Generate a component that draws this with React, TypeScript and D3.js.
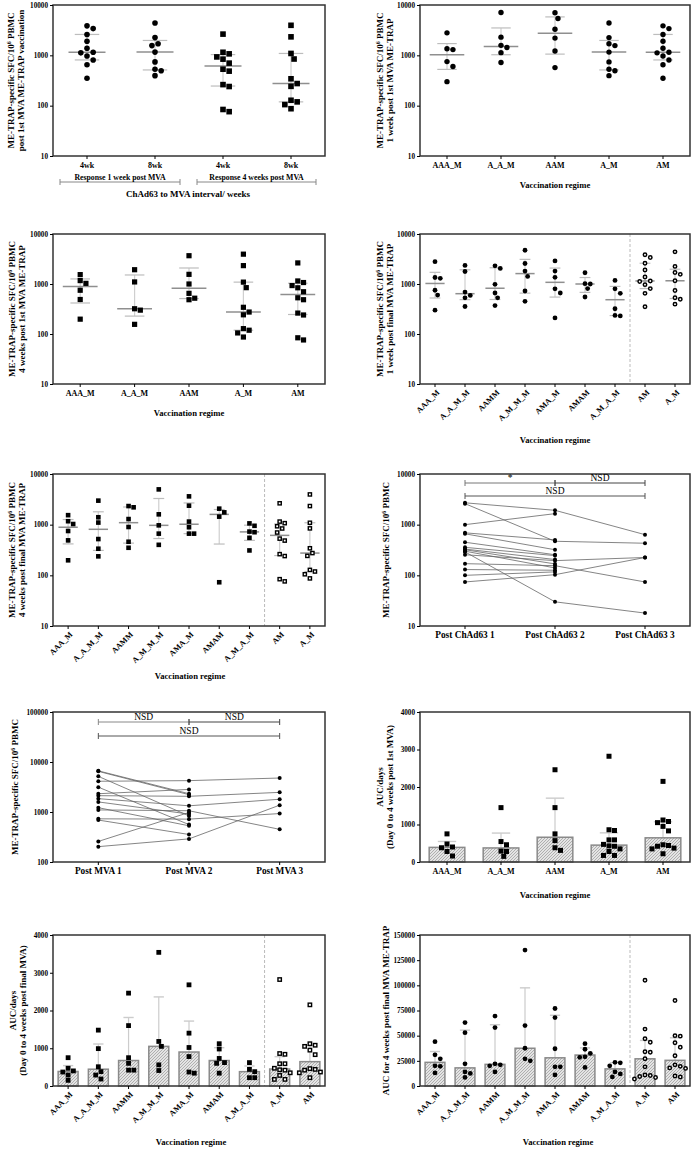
import React, { useEffect, useRef } from 'react';
import * as d3 from 'd3';

const FONT = '"Liberation Serif", "Times New Roman", serif';

// ---- categories ----
const intervalCats = ['4wk', '8wk', '4wk', '8wk'];
const regimes5 = ['AAA_M', 'A_A_M', 'AAM', 'A_M', 'AM'];
const regimes9 = ['AAA_M', 'A_A_M_M', 'AAMM', 'A_M_M_M', 'AMA_M', 'AMAM', 'A_M_A_M', 'AM', 'A_M'];
const regimes9b = ['AAA_M', 'A_A_M_M', 'AAMM', 'A_M_M_M', 'AMA_M', 'AMAM', 'A_M_A_M', 'A_M', 'AM'];
const chadCats = ['Post ChAd63 1', 'Post ChAd63 2', 'Post ChAd63 3'];
const mvaCats = ['Post MVA 1', 'Post MVA 2', 'Post MVA 3'];

// ---- SFC/10^6 PBMC, 1 week post 1st MVA ----
const wk1_AAA_M = [2800, 1350, 1300, 750, 600, 300];
const wk1_A_A_M = [7100, 2300, 1580, 1430, 1130, 720];
const wk1_AAM = [7000, 5400, 3300, 2200, 1220, 570];
const wk1_A_M = [4400, 2250, 1700, 1560, 1160, 740, 530, 495, 395];
const wk1_AM = [3850, 3400, 2600, 1900, 1380, 1150, 1120, 970, 810, 650, 350];

// ---- 4 weeks post 1st MVA ----
const wk4_AAA_M = [1540, 1170, 1030, 750, 490, 198];
const wk4_A_A_M = [1930, 1100, 320, 300, 156];
const wk4_AAM = [3680, 1560, 1000, 650, 520, 485];
const wk4_A_M = [3950, 2330, 1090, 845, 342, 275, 242, 128, 119, 105, 87];
const wk4_AM = [2640, 1150, 1070, 930, 840, 700, 530, 485, 262, 240, 84, 76];

// ---- 1 week post final MVA ----
const fin1_A_A_M_M = [2350, 1780, 690, 590, 530, 355];
const fin1_AAMM = [2310, 2050, 985, 660, 530, 370];
const fin1_A_M_M_M = [4730, 2570, 1810, 1420, 725, 450];
const fin1_AMA_M = [2900, 1810, 1360, 800, 660, 210];
const fin1_AMAM = [1680, 1015, 1000, 810, 550];
const fin1_A_M_A_M = [1180, 800, 650, 320, 235, 230];

// ---- 4 weeks post final MVA ----
const fin4_A_A_M_M = [2980, 1400, 1100, 520, 335, 237];
const fin4_AAMM = [2330, 2200, 1290, 900, 460, 350];
const fin4_A_M_M_M = [4970, 1600, 970, 665, 400];
const fin4_AMA_M = [3620, 2370, 1150, 890, 665, 665];
const fin4_AMAM = [2070, 1750, 1440, 73];
const fin4_A_M_A_M = [1060, 950, 730, 710, 550, 310];

// ---- repeated ChAd63 / MVA, per volunteer ----
const chadSeries = [
  [2700, 1920, 635],
  [2600, 470, 430],
  [1000, 1650],
  [690, 500],
  [660, 320],
  [450, 255],
  [357, 245],
  [330, 205],
  [320, 168],
  [300, 140],
  [290, 30, 18],
  [255, 195, 225],
  [170, 155, 74],
  [130, 126],
  [100, 117],
  [74, 103, 225],
];
const mvaSeries = [
  [6650, 2320],
  [6500, 2220],
  [5160, 835],
  [4120, 4240, 4780],
  [3140, 560],
  [2320, 2830],
  [2120, 2060, 2470],
  [1850, 1330, 1800],
  [1590, 910],
  [1220, 530],
  [1100, 1060, 450],
  [730, 720, 930],
  [690, 355],
  [258, 980],
  [203, 290, 1370],
];

// ---- AUC/days, day 0 to 4 weeks post 1st MVA ----
const auc1_AAA_M = [750, 480, 400, 380, 280, 160];
const auc1_A_A_M = [1450, 545, 460, 290, 280, 150];
const auc1_AAM = [2460, 1450, 750, 570, 380, 310];
const auc1_A_M = [2820, 860, 840, 590, 590, 470, 430, 420, 350, 280, 175, 175];
const auc1_AM = [2150, 1120, 1080, 1050, 950, 830, 460, 440, 420, 370, 350, 220];

// ---- AUC/days, day 0 to 4 weeks post final MVA ----
const aucF_AAA_M = [750, 470, 400, 370, 290, 150];
const aucF_A_A_M_M = [1480, 990, 510, 380, 290, 185];
const aucF_AAMM = [2460, 1600, 750, 600, 420, 420];
const aucF_A_M_M_M = [3540, 1180, 1050, 560, 410];
const aucF_AMA_M = [2680, 1400, 1020, 780, 370, 340];
const aucF_AMAM = [1120, 980, 730, 620, 600, 340];
const aucF_A_M_A_M = [620, 440, 380, 220, 220];

// ---- AUC for 4 weeks post final MVA ME-TRAP ----
const auc4_AAA_M = [44000, 31000, 27000, 20000, 19500, 13000];
const auc4_A_A_M_M = [63000, 53000, 22000, 14000, 12500, 8500];
const auc4_AAMM = [69500, 58000, 22000, 21000, 20000, 14000];
const auc4_A_M_M_M = [135000, 60000, 37500, 27000, 25000];
const auc4_AMA_M = [77000, 68000, 37000, 19000, 19000, 11000];
const auc4_AMAM = [42000, 36500, 32500, 29000, 28500, 18500];
const auc4_A_M_A_M = [23500, 23000, 20000, 14000, 12000, 9000];
const auc4_A_M = [105000, 56500, 47000, 43500, 34000, 33500, 27000, 19000, 11000, 10500, 9500, 8500, 7000];
const auc4_AM = [85000, 50000, 49500, 43000, 38500, 30000, 21000, 19500, 18000, 17500, 10000, 9000];

const logTicks = [10, 100, 1000, 10000];
const logTicks2 = [100, 1000, 10000, 100000];
const aucTicks = [0, 1000, 2000, 3000, 4000];
const auc4Ticks = [0, 25000, 50000, 75000, 100000, 125000, 150000];

type Shape = 'circle' | 'square' | 'ocircle' | 'osquare';
type Sel = d3.Selection<any, unknown, null, undefined>;

// GraphPad style percentile: position (n+1)p
function gpQuantile(vals: number[], p: number) {
  const s = [...vals].sort((a, b) => a - b);
  const n = s.length;
  const pos = (n + 1) * p;
  if (pos <= 1) return s[0];
  if (pos >= n) return s[n - 1];
  const lo = Math.floor(pos);
  return s[lo - 1] + (pos - lo) * (s[lo] - s[lo - 1]);
}

// spread overlapping points sideways
function dodge(ys: number[], size: number) {
  const order = ys.map((_, i) => i).sort((a, b) => ys[a] - ys[b]);
  const placed: { x: number; y: number }[] = [];
  const out = ys.map(() => 0);
  for (const i of order) {
    const y = ys[i];
    for (let k = 0; k < 40; k++) {
      const off = k === 0 ? 0 : (k % 2 ? 1 : -1) * Math.ceil(k / 2) * size * 0.5;
      if (placed.every(p => Math.hypot(p.x - off, p.y - y) >= size)) {
        out[i] = off;
        placed.push({ x: off, y });
        break;
      }
    }
  }
  return out;
}

function marker(g: Sel, shape: Shape, cx: number, cy: number, r: number) {
  if (shape === 'circle') {
    g.append('circle').attr('cx', cx).attr('cy', cy).attr('r', r).attr('fill', '#000');
  } else if (shape === 'square') {
    g.append('rect').attr('x', cx - r).attr('y', cy - r).attr('width', 2 * r).attr('height', 2 * r).attr('fill', '#000');
  } else if (shape === 'ocircle') {
    g.append('circle').attr('cx', cx).attr('cy', cy).attr('r', r - 0.7)
      .attr('fill', '#fff').attr('stroke', '#000').attr('stroke-width', 1.5);
  } else {
    g.append('rect').attr('x', cx - r + 0.7).attr('y', cy - r + 0.7).attr('width', 2 * r - 1.4).attr('height', 2 * r - 1.4)
      .attr('fill', '#fff').attr('stroke', '#000').attr('stroke-width', 1.4);
  }
}

function addText(g: Sel, text: string, x: number, y: number, opts: { rot?: number; size?: number; bold?: boolean; anchor?: string } = {}) {
  const size = opts.size ?? 9;
  const t = g.append('text')
    .attr('transform', `translate(${x},${y}) rotate(${opts.rot ?? 0})`)
    .attr('text-anchor', opts.anchor ?? 'middle')
    .attr('dy', '0.35em')
    .attr('font-family', FONT)
    .attr('font-size', size)
    .attr('font-weight', opts.bold === false ? 'normal' : 'bold')
    .attr('fill', '#000');
  const parts = text.split('^6');
  parts.forEach((p, i) => {
    t.append('tspan').text(p);
    if (i < parts.length - 1) t.append('tspan').attr('baseline-shift', 'super').attr('font-size', size * 0.65).text('6');
  });
}

function bracket(g: Sel, xa: number, xb: number, y: number, label: string, bold = false, color = '#777') {
  g.append('path')
    .attr('d', `M${xa},${y - 3}V${y + 3}M${xa},${y}H${xb}M${xb},${y - 3}V${y + 3}`)
    .attr('stroke', color).attr('stroke-width', 1).attr('fill', 'none');
  addText(g, label, (xa + xb) / 2, y - 5, { size: bold ? 7.8 : 9.5, bold });
}

interface Frame { x0: number; x1: number; y0: number; y1: number }

function frameAndAxes(g: Sel, f: Frame, y: any, ticks: number[], x: d3.ScaleBand<string>, cats: string[], rotate: boolean, labelSize = 8) {
  g.append('rect').attr('x', f.x0).attr('y', f.y0).attr('width', f.x1 - f.x0).attr('height', f.y1 - f.y0)
    .attr('fill', 'none').attr('stroke', '#333').attr('stroke-width', 1.5);
  const ay = g.append('g').attr('transform', `translate(${f.x0},0)`)
    .call(d3.axisLeft(y).tickValues(ticks).tickSize(3).tickPadding(2).tickFormat(d3.format('d')) as any);
  ay.select('.domain').remove();
  ay.selectAll('line').attr('stroke', '#000');
  ay.selectAll('text').attr('font-family', FONT).attr('font-weight', 'bold').attr('font-size', 7.2).attr('fill', '#000');
  cats.forEach((c, i) => {
    const cx = (x(String(i)) as number) + x.bandwidth() / 2;
    g.append('line').attr('x1', cx).attr('x2', cx).attr('y1', f.y1).attr('y2', f.y1 + 3).attr('stroke', '#000');
    if (rotate) {
      g.append('text')
        .attr('transform', `translate(${cx + 3},${f.y1 + 7}) rotate(-45)`)
        .attr('text-anchor', 'end').attr('dy', '0.35em')
        .attr('font-family', FONT).attr('font-weight', 'bold').attr('font-size', 8).text(c);
    } else {
      addText(g, c, cx, f.y1 + 9, { size: labelSize });
    }
  });
}

interface DotCfg extends Frame {
  cats: string[];
  groups: number[][];
  shapes: Shape[];
  y: any;
  ticks: number[];
  bars?: boolean;
  rotate?: boolean;
  sepAfter?: number;
  r: number;
}

function dotPanel(svg: Sel, c: DotCfg) {
  const g = svg.append('g');
  const x = d3.scaleBand<string>().domain(c.cats.map((_, i) => String(i))).range([c.x0, c.x1]);
  const bw = x.bandwidth();
  if (c.sepAfter !== undefined) {
    const sx = (x(String(c.sepAfter)) as number);
    g.append('line').attr('x1', sx).attr('x2', sx).attr('y1', c.y0).attr('y2', c.y1)
      .attr('stroke', '#aaa').attr('stroke-width', 0.8).attr('stroke-dasharray', '3,2');
  }
  c.groups.forEach((vals, i) => {
    const cx = (x(String(i)) as number) + bw / 2;
    const med = gpQuantile(vals, 0.5);
    const q1 = gpQuantile(vals, 0.25);
    const q3 = gpQuantile(vals, 0.75);
    if (c.bars) {
      const w = bw * 0.66;
      g.append('line').attr('x1', cx).attr('x2', cx).attr('y1', c.y(med)).attr('y2', c.y(q3))
        .attr('stroke', '#ccc').attr('stroke-width', 1.2);
      g.append('line').attr('x1', cx - bw * 0.17).attr('x2', cx + bw * 0.17).attr('y1', c.y(q3)).attr('y2', c.y(q3))
        .attr('stroke', '#ccc').attr('stroke-width', 1.4);
      g.append('rect').attr('x', cx - w / 2).attr('y', c.y(med)).attr('width', w).attr('height', c.y(0) - c.y(med))
        .attr('fill', 'url(#hatch)').attr('stroke', '#8a8a8a').attr('stroke-width', 1.5);
    } else {
      const mw = Math.min(bw * 0.64, 37);
      const cw = bw * 0.36;
      g.append('line').attr('x1', cx).attr('x2', cx).attr('y1', c.y(q1)).attr('y2', c.y(q3))
        .attr('stroke', '#cfcfcf').attr('stroke-width', 1.2);
      [q1, q3].forEach(q => g.append('line').attr('x1', cx - cw / 2).attr('x2', cx + cw / 2)
        .attr('y1', c.y(q)).attr('y2', c.y(q)).attr('stroke', '#bdbdbd').attr('stroke-width', 1.2));
      g.append('line').attr('x1', cx - mw / 2).attr('x2', cx + mw / 2).attr('y1', c.y(med)).attr('y2', c.y(med))
        .attr('stroke', '#8f8f8f').attr('stroke-width', 1.5);
    }
    const ys = vals.map(v => c.y(v));
    const offs = dodge(ys, c.r * 2.2);
    ys.forEach((yy, j) => marker(g, c.shapes[i], cx + offs[j], yy, c.r));
  });
  frameAndAxes(g, c, c.y, c.ticks, x, c.cats, !!c.rotate);
  return x;
}

function linePanel(svg: Sel, c: Frame & { cats: string[]; series: number[][]; y: any; ticks: number[] }) {
  const g = svg.append('g');
  const x = d3.scaleBand<string>().domain(c.cats.map((_, i) => String(i))).range([c.x0, c.x1]);
  const cx = (i: number) => (x(String(i)) as number) + x.bandwidth() / 2;
  const line = d3.line<number>().x((_, i) => cx(i)).y(v => c.y(v));
  c.series.forEach(s => {
    g.append('path').attr('d', line(s)).attr('fill', 'none').attr('stroke', '#666').attr('stroke-width', 0.8);
    s.forEach((v, i) => g.append('circle').attr('cx', cx(i)).attr('cy', c.y(v)).attr('r', 2).attr('fill', '#000'));
  });
  frameAndAxes(g, c, c.y, c.ticks, x, c.cats, false, 9.3);
  return cx;
}

export default function App() {
  const ref = useRef<SVGSVGElement>(null);

  useEffect(() => {
    const svg = d3.select(ref.current) as unknown as Sel;
    svg.selectAll('*').remove();

    const defs = svg.append('defs');
    const pat = defs.append('pattern').attr('id', 'hatch').attr('patternUnits', 'userSpaceOnUse')
      .attr('width', 3).attr('height', 3);
    pat.append('rect').attr('width', 3).attr('height', 3).attr('fill', '#e4e4e4');
    pat.append('path').attr('d', 'M0,3L3,0M-1,1L1,-1M2,4L4,2').attr('stroke', '#8c8c8c').attr('stroke-width', 0.6);

    const L = { x0: 53, x1: 325 };
    const R = { x0: 420, x1: 690 };
    const rows = [[5, 156], [234, 384], [474, 626], [712, 862], [935, 1086]];
    const logY = (r: number[], top = 10000, bottom = 10) => d3.scaleLog().domain([bottom, top]).range([r[1], r[0]]);
    const linY = (r: number[], top: number) => d3.scaleLinear().domain([0, top]).range([r[1], r[0]]);
    const sfc = 'ME-TRAP-specific SFC/10^6 PBMC';
    const cy = (r: number[]) => (r[0] + r[1]) / 2;

    // ---- A: by ChAd63-MVA interval ----
    dotPanel(svg, {
      ...L, y0: rows[0][0], y1: rows[0][1], cats: intervalCats,
      groups: [wk1_AM, wk1_A_M, wk4_AM, wk4_A_M], shapes: ['circle', 'circle', 'square', 'square'],
      y: logY(rows[0]), ticks: logTicks, r: 2.8,
    });
    addText(svg, sfc, 11, cy(rows[0]), { rot: -90 });
    addText(svg, 'post 1st MVA ME-TRAP vaccination', 21, cy(rows[0]), { rot: -90 });
    bracket(svg, 60, 180, 182, 'Response 1 week post MVA', true, '#888');
    bracket(svg, 197, 316, 182, 'Response 4 weeks post MVA', true, '#888');
    addText(svg, 'ChAd63 to MVA interval/ weeks', 188, 194);

    // ---- B: 1 week post 1st MVA ----
    dotPanel(svg, {
      ...R, y0: rows[0][0], y1: rows[0][1], cats: regimes5,
      groups: [wk1_AAA_M, wk1_A_A_M, wk1_AAM, wk1_A_M, wk1_AM], shapes: ['circle', 'circle', 'circle', 'circle', 'circle'],
      y: logY(rows[0]), ticks: logTicks, r: 2.7,
    });
    addText(svg, sfc, 380, cy(rows[0]), { rot: -90 });
    addText(svg, '1 week post 1st MVA ME-TRAP', 390, cy(rows[0]), { rot: -90 });
    addText(svg, 'Vaccination regime', 555, 185, { size: 8.6 });

    // ---- C: 4 weeks post 1st MVA ----
    dotPanel(svg, {
      ...L, y0: rows[1][0], y1: rows[1][1], cats: regimes5,
      groups: [wk4_AAA_M, wk4_A_A_M, wk4_AAM, wk4_A_M, wk4_AM], shapes: ['square', 'square', 'square', 'square', 'square'],
      y: logY(rows[1]), ticks: logTicks, r: 2.6,
    });
    addText(svg, sfc, 12, cy(rows[1]), { rot: -90 });
    addText(svg, '4 weeks post 1st MVA ME-TRAP', 22, cy(rows[1]), { rot: -90 });
    addText(svg, 'Vaccination regime', 189, 413, { size: 8.6 });

    // ---- D: 1 week post final MVA ----
    dotPanel(svg, {
      ...R, y0: rows[1][0], y1: rows[1][1], cats: regimes9,
      groups: [wk1_AAA_M, fin1_A_A_M_M, fin1_AAMM, fin1_A_M_M_M, fin1_AMA_M, fin1_AMAM, fin1_A_M_A_M, wk1_AM, wk1_A_M],
      shapes: ['circle', 'circle', 'circle', 'circle', 'circle', 'circle', 'circle', 'ocircle', 'ocircle'],
      y: logY(rows[1]), ticks: logTicks, rotate: true, sepAfter: 7, r: 2.4,
    });
    addText(svg, sfc, 380, cy(rows[1]), { rot: -90 });
    addText(svg, '1 week post final  MVA ME-TRAP', 390, cy(rows[1]), { rot: -90 });
    addText(svg, 'Vaccination regime', 555, 440, { size: 8.6 });

    // ---- E: 4 weeks post final MVA ----
    dotPanel(svg, {
      ...L, y0: rows[2][0], y1: rows[2][1], cats: regimes9,
      groups: [wk4_AAA_M, fin4_A_A_M_M, fin4_AAMM, fin4_A_M_M_M, fin4_AMA_M, fin4_AMAM, fin4_A_M_A_M, wk4_AM, wk4_A_M],
      shapes: ['square', 'square', 'square', 'square', 'square', 'square', 'square', 'osquare', 'osquare'],
      y: logY(rows[2]), ticks: logTicks, rotate: true, sepAfter: 7, r: 2.3,
    });
    addText(svg, sfc, 12, cy(rows[2]), { rot: -90 });
    addText(svg, '4 weeks post final  MVA ME-TRAP', 22, cy(rows[2]), { rot: -90 });
    addText(svg, 'Vaccination regime', 190, 676, { size: 8.6 });

    // ---- F: repeated ChAd63 ----
    const cxF = linePanel(svg, {
      ...R, y0: rows[2][0], y1: rows[2][1], cats: chadCats, series: chadSeries, y: logY(rows[2]), ticks: logTicks,
    });
    addText(svg, sfc, 386, cy(rows[2]), { rot: -90 });
    bracket(svg, cxF(0), cxF(1), 483, '*');
    bracket(svg, cxF(1), cxF(2), 483, 'NSD', false, '#444');
    bracket(svg, cxF(0), cxF(2), 496, 'NSD', false, '#555');

    // ---- G: repeated MVA ----
    const cxG = linePanel(svg, {
      ...L, y0: rows[3][0], y1: rows[3][1], cats: mvaCats, series: mvaSeries, y: logY(rows[3], 100000, 100), ticks: logTicks2,
    });
    addText(svg, sfc, 15, cy(rows[3]), { rot: -90 });
    bracket(svg, cxG(0), cxG(1), 722, 'NSD', false, '#888');
    bracket(svg, cxG(1), cxG(2), 722, 'NSD', false, '#444');
    bracket(svg, cxG(0), cxG(2), 736, 'NSD', false, '#555');

    // ---- H: AUC post 1st MVA ----
    dotPanel(svg, {
      ...R, y0: rows[3][0], y1: rows[3][1], cats: regimes5,
      groups: [auc1_AAA_M, auc1_A_A_M, auc1_AAM, auc1_A_M, auc1_AM], shapes: ['square', 'square', 'square', 'square', 'square'],
      y: linY(rows[3], 4000), ticks: aucTicks, bars: true, r: 2.5,
    });
    addText(svg, 'AUC/days', 380, cy(rows[3]), { rot: -90 });
    addText(svg, '(Day 0 to 4 weeks post 1st MVA)', 390, cy(rows[3]), { rot: -90 });
    addText(svg, 'Vaccination regime', 555, 895, { size: 8.6 });

    // ---- I: AUC post final MVA ----
    dotPanel(svg, {
      ...L, y0: rows[4][0], y1: rows[4][1], cats: regimes9b,
      groups: [aucF_AAA_M, aucF_A_A_M_M, aucF_AAMM, aucF_A_M_M_M, aucF_AMA_M, aucF_AMAM, aucF_A_M_A_M, auc1_A_M, auc1_AM],
      shapes: ['square', 'square', 'square', 'square', 'square', 'square', 'square', 'osquare', 'osquare'],
      y: linY(rows[4], 4000), ticks: aucTicks, bars: true, rotate: true, sepAfter: 7, r: 2.4,
    });
    addText(svg, 'AUC/days', 13, cy(rows[4]), { rot: -90 });
    addText(svg, '(Day 0 to 4 weeks post final MVA)', 23, cy(rows[4]), { rot: -90 });
    addText(svg, 'Vaccination regime', 191, 1142, { size: 8.6 });

    // ---- J: AUC 4 weeks post final MVA ----
    dotPanel(svg, {
      ...R, y0: rows[4][0], y1: rows[4][1], cats: regimes9b,
      groups: [auc4_AAA_M, auc4_A_A_M_M, auc4_AAMM, auc4_A_M_M_M, auc4_AMA_M, auc4_AMAM, auc4_A_M_A_M, auc4_A_M, auc4_AM],
      shapes: ['circle', 'circle', 'circle', 'circle', 'circle', 'circle', 'circle', 'ocircle', 'ocircle'],
      y: linY(rows[4], 150000), ticks: auc4Ticks, bars: true, rotate: true, sepAfter: 7, r: 2.4,
    });
    addText(svg, 'AUC for 4 weeks post final MVA ME-TRAP', 386, cy(rows[4]), { rot: -90 });
    addText(svg, 'Vaccination regime', 558, 1142, { size: 8.6 });
  }, []);

  return (
    <svg ref={ref} width={694} height={1150}
      style={{ position: 'absolute', left: 0, top: 0, background: '#fff', display: 'block' }} />
  );
}
